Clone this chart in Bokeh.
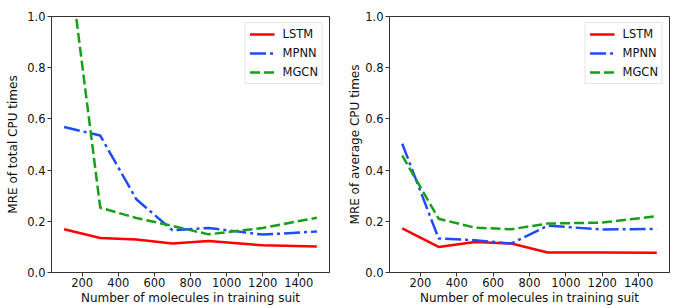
from bokeh.plotting import figure
from bokeh.layouts import row
from bokeh.models import FixedTicker, PrintfTickFormatter, Range1d, Legend, LegendItem
from bokeh.embed import file_html
from bokeh.resources import INLINE

# ---- data ----
n_molecules = [100, 300, 500, 700, 900, 1200, 1500]
series_names = ["LSTM", "MPNN", "MGCN"]

total_lstm = [0.169, 0.135, 0.129, 0.113, 0.123, 0.106, 0.102]
total_mpnn = [0.568, 0.535, 0.286, 0.165, 0.174, 0.148, 0.160]
total_mgcn = [1.37, 0.253, 0.213, 0.182, 0.149, 0.174, 0.214]

avg_lstm = [0.172, 0.100, 0.119, 0.113, 0.078, 0.078, 0.077]
avg_mpnn = [0.503, 0.133, 0.126, 0.113, 0.183, 0.168, 0.170]
avg_mgcn = [0.457, 0.210, 0.175, 0.169, 0.191, 0.195, 0.220]

x_ticks = [200, 400, 600, 800, 1000, 1200, 1400]
y_ticks = [0.0, 0.2, 0.4, 0.6, 0.8, 1.0]

x_label = "Number of molecules in training suit"
y_label_total = "MRE of total CPU times"
y_label_avg = "MRE of average CPU times"

COLORS = ["#ff0000", "#1f4bff", "#16a016"]
DASHES = ["solid", "16 4 3 4", "10 4"]
FONT = "DejaVu Sans"


def make_fig(series, ylabel, border_left, frame_w, border_right, label_standoff):
    p = figure(output_backend="svg", toolbar_location=None,
               frame_width=frame_w, frame_height=256,
               min_border_left=border_left, min_border_right=border_right,
               min_border_top=16, min_border_bottom=36,
               x_range=Range1d(30, 1570), y_range=Range1d(0, 1.0))
    p.background_fill_color = "white"
    p.border_fill_color = "white"
    p.grid.visible = False
    p.outline_line_color = "#333333"
    p.outline_line_width = 1
    p.outline_line_alpha = 1

    for ax in (p.xaxis[0], p.yaxis[0]):
        ax.axis_line_color = "#333333"
        ax.major_tick_line_color = "#333333"
        ax.minor_tick_line_color = None
        ax.major_tick_in = 0
        ax.major_tick_out = 4
        ax.major_label_text_font = FONT
        ax.major_label_text_font_size = "11.5px"
        ax.major_label_text_color = "#111111"
        ax.axis_label_text_font = FONT
        ax.axis_label_text_font_size = "12px"
        ax.axis_label_text_font_style = "normal"
        ax.axis_label_text_color = "#111111"
        ax.major_label_standoff = 2

    p.xaxis.ticker = FixedTicker(ticks=x_ticks)
    p.yaxis.ticker = FixedTicker(ticks=y_ticks)
    p.yaxis.formatter = PrintfTickFormatter(format="%.1f")
    p.xaxis.axis_label = x_label
    p.yaxis.axis_label = ylabel
    p.xaxis.axis_label_standoff = 1
    p.xaxis.major_label_standoff = 1
    p.yaxis.axis_label_standoff = label_standoff

    items = []
    for name, ys, c, d in zip(series_names, series, COLORS, DASHES):
        r = p.line(n_molecules, ys, line_color=c, line_width=2.5, line_dash=d)
        items.append(LegendItem(label=name, renderers=[r]))

    leg = Legend(items=items, location="top_right")
    leg.margin = 6
    leg.padding = 4
    leg.spacing = 5
    leg.glyph_height = 12
    leg.glyph_width = 25
    leg.label_height = 12
    leg.label_standoff = 8
    leg.label_text_font = FONT
    leg.label_text_font_size = "11.5px"
    leg.label_text_color = "#111111"
    leg.border_line_color = "#cccccc"
    leg.border_line_width = 1
    leg.background_fill_alpha = 0.8
    p.add_layout(leg)
    return p


p1 = make_fig([total_lstm, total_mpnn, total_mgcn], y_label_total, 51, 278, 16, 4)
p2 = make_fig([avg_lstm, avg_mpnn, avg_mgcn], y_label_avg, 38, 280, 20, 0)

layout = row(p1, p2)
open("out.html", "w").write(file_html(layout, INLINE))
